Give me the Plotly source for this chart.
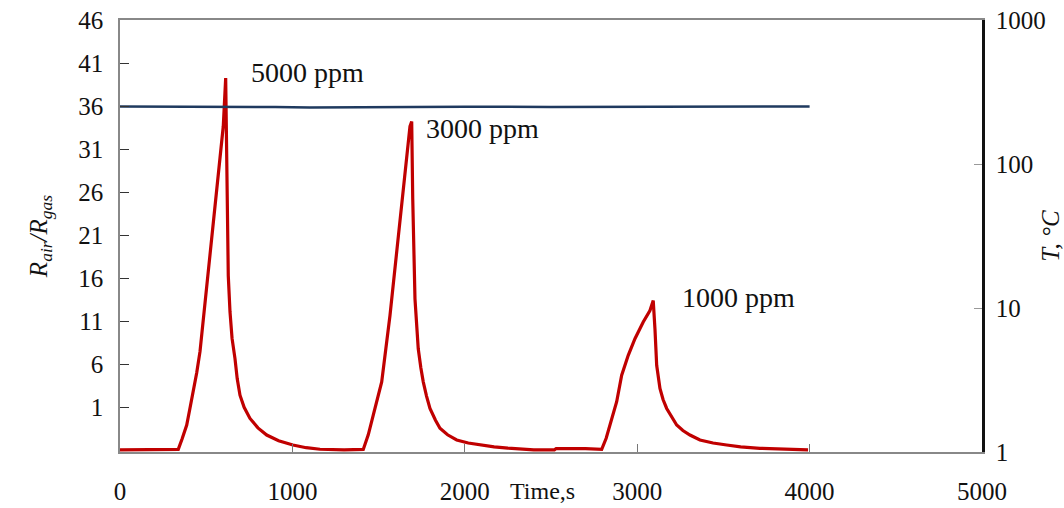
import plotly.graph_objects as go

# Sensor response (left axis, Rair/Rgas)
time_s = [0, 100, 200, 300, 338, 360, 387, 405, 425, 445, 464, 493, 522, 551, 580, 599, 613, 619, 628, 638,
          650, 667, 680, 696, 720, 754, 800, 851, 920, 1003, 1080, 1160, 1300, 1411, 1440, 1469, 1495,
          1518, 1566, 1595, 1624, 1643, 1663, 1682, 1692, 1698, 1711, 1730, 1745, 1759, 1778, 1798, 1830,
          1856, 1900, 1953, 2020, 2088, 2170, 2250, 2400, 2520, 2530, 2700, 2794, 2820, 2842, 2881, 2910,
          2948, 2987, 3035, 3074, 3093, 3103, 3113, 3132, 3150, 3171, 3200, 3229, 3265, 3306, 3364, 3440,
          3519, 3600, 3712, 3850, 3991]
response = [-3.95, -3.95, -3.9, -3.95, -3.9, -2.7, -1.07, 0.8, 2.79, 5.0, 7.46, 13.2, 19.0, 24.0, 29.8,
            33.65, 39.25, 29.8, 16.3, 12.1, 9.0, 6.65, 4.3, 2.4, 1.0, -0.3, -1.4, -2.23, -2.9, -3.39, -3.7,
            -3.88, -3.95, -3.9, -2.2, 0.09, 2.0, 3.95, 11.66, 17.06, 22.08, 26.3, 29.8, 33.65, 34.2, 25.2,
            13.6, 7.8, 5.6, 3.95, 2.3, 0.86, -0.5, -1.45, -2.2, -2.8, -3.15, -3.39, -3.6, -3.75, -3.95,
            -3.95, -3.8, -3.8, -3.9, -2.6, -1.07, 1.64, 4.72, 7.03, 8.96, 10.9, 12.24, 13.4, 10.1, 5.87,
            3.18, 1.9, 0.86, -0.2, -1.07, -1.7, -2.23, -2.81, -3.15, -3.39, -3.6, -3.77, -3.9, -3.95]

# Temperature (right axis, log)
temp_time = [0, 300, 600, 900, 1100, 1300, 1500, 2000, 2500, 3000, 3500, 4000]
temp_c = [251, 251, 250, 249, 247, 248, 249, 250, 249, 250, 250, 251]

left_ticks = [46, 41, 36, 31, 26, 21, 16, 11, 6, 1]
right_ticks = [1, 10, 100, 1000]
x_ticks = [0, 1000, 2000, 3000, 4000, 5000]

labels = ["5000 ppm", "3000 ppm", "1000 ppm"]
label_t = [1085, 2100, 3590]
label_v = [39.9, 33.4, 13.8]

FONT = "Liberation Serif"

fig = go.Figure()
fig.add_trace(go.Scatter(x=temp_time, y=temp_c, yaxis="y2", mode="lines",
                         line=dict(color="#1f3a5f", width=2.5), showlegend=False))
fig.add_trace(go.Scatter(x=time_s, y=response, mode="lines",
                         line=dict(color="#c00000", width=3.2), showlegend=False))

for txt, t, v in zip(labels, label_t, label_v):
    fig.add_annotation(x=t, y=v, text=txt, showarrow=False, xanchor="center", yanchor="middle",
                       font=dict(family=FONT, size=28, color="#111111"))

fig.add_annotation(xref="paper", yref="paper", x=0.49, y=-0.09, text="Time,s", showarrow=False,
                   xanchor="center", yanchor="middle", font=dict(family=FONT, size=24, color="#111111"))

fig.update_layout(
    width=1064, height=508,
    margin=dict(l=120, r=82, t=20, b=56),
    paper_bgcolor="white", plot_bgcolor="white",
    font=dict(family=FONT, size=25, color="#111111"),
    xaxis=dict(range=[0, 5000], tickvals=x_ticks, ticks="inside", ticklen=8, tickcolor="#777",
               showline=True, linecolor="#888", linewidth=1.5, mirror=True, showgrid=False,
               zeroline=False, ticklabelstandoff=16, tickfont=dict(size=25), automargin=False),
    yaxis=dict(range=[-4.2, 46], tickvals=left_ticks, ticks="inside", ticklen=9, tickcolor="#333",
               showline=True, linecolor="#888", linewidth=1.5, showgrid=False, zeroline=False,
               ticklabelstandoff=10, tickfont=dict(size=25), automargin=False,
               title=dict(text="<i>R<sub>air</sub>/R<sub>gas</sub></i>", font=dict(size=25), standoff=24)),
    yaxis2=dict(type="log", range=[0, 3], overlaying="y", side="right", tickvals=right_ticks,
                ticks="inside", ticklen=8, tickcolor="#999", showline=True, linecolor="#111",
                linewidth=2.5, showgrid=False, zeroline=False, tickfont=dict(size=25), automargin=False,
                ticklabelstandoff=6,
                title=dict(text="<i>T, °C</i>", font=dict(size=25), standoff=8)),
)

fig.write_html("out.html")
